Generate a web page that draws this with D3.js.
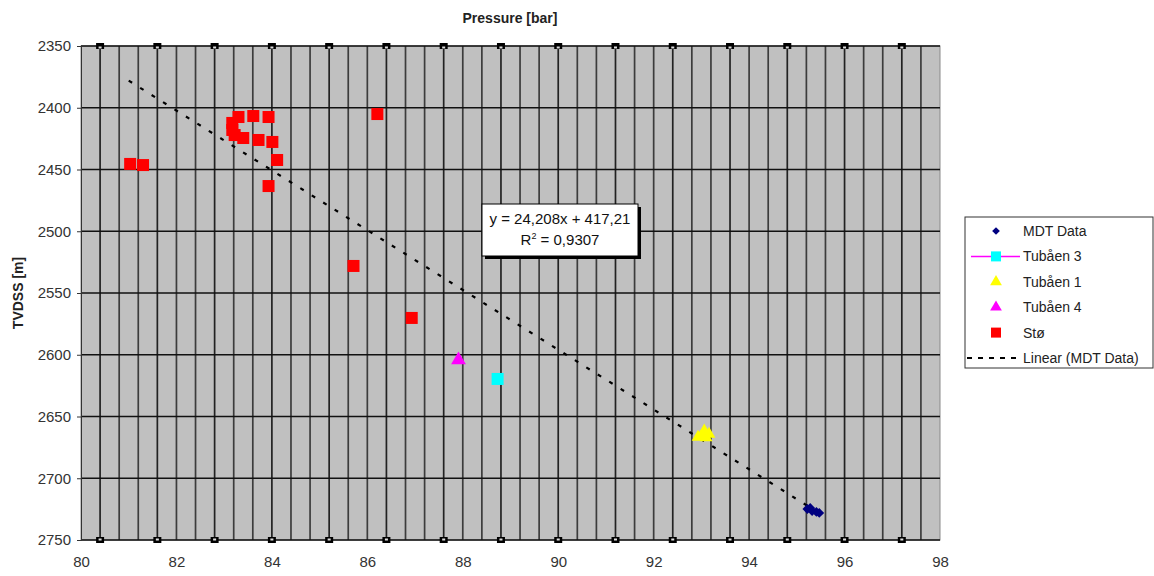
<!DOCTYPE html>
<html>
<head>
<meta charset="utf-8">
<script src="https://cdn.jsdelivr.net/npm/d3@7"></script>
<style>
  body { margin: 0; background: #fff; }
  text { font-family: "Liberation Sans", Arial, sans-serif; }
</style>
</head>
<body>
<div class="chart"></div>
<script>
// data
var stoP = [83.30, 83.61, 83.93, 83.17, 83.17, 83.22, 83.40, 83.72, 84.01, 84.11, 83.93, 81.03, 81.30, 86.21, 85.71, 86.93];
var stoD = [2407.5, 2406.7, 2407.5, 2412.3, 2418.0, 2422.1, 2424.5, 2426.1, 2427.7, 2442.3, 2463.4, 2445.5, 2446.4, 2405.1, 2528.1, 2570.2];

var tub1P = [92.93, 93.06, 93.16, 93.00, 93.10];
var tub1D = [2666.6, 2661.7, 2664.2, 2665.8, 2667.0];

var tub3P = [88.73];
var tub3D = [2619.6];

var tub4P = [87.91];
var tub4D = [2604.2];

var mdtP = [95.22, 95.28, 95.32, 95.41, 95.47];
var mdtD = [2724.9, 2724.1, 2726.5, 2727.3, 2728.1];

// trendline y = 24,208x + 417,21
var trendSlope = 24.208, trendIntercept = 417.21;
var trendRange = [81.0, 95.25];

var xTicks = [80, 82, 84, 86, 88, 90, 92, 94, 96, 98];
var yTicks = [2350, 2400, 2450, 2500, 2550, 2600, 2650, 2700, 2750];

var legendNames = ["MDT Data", "Tubåen 3", "Tubåen 1", "Tubåen 4", "Stø", "Linear (MDT Data)"];

var margin = { top: 46, left: 81 },
  chart_width = 859,
  chart_height = 494;

var svg = d3.select(".chart").append("svg")
  .attr("width", 1154)
  .attr("height", 576);

var g = svg.append("g")
  .attr("transform", "translate(" + margin.left + "," + margin.top + ")");

var xScale = d3.scaleLinear().domain([80, 98]).range([0, chart_width]);
var yScale = d3.scaleLinear().domain([2350, 2750]).range([0, chart_height]);

// plot background
g.append("rect")
  .attr("width", chart_width)
  .attr("height", chart_height)
  .attr("fill", "#c0c0c0")
  .attr("stroke", "#8a8a8a")
  .attr("stroke-width", 1);

// vertical lines every 0.4 bar
var vLines = d3.range(1, 45).map(function (k) { return 80 + k * 0.4; });
g.append("g").selectAll("line")
  .data(vLines)
  .enter().append("line")
  .attr("x1", function (d) { return xScale(d); })
  .attr("x2", function (d) { return xScale(d); })
  .attr("y1", 0)
  .attr("y2", chart_height)
  .attr("stroke", function (d, i) { return i % 3 == 0 ? "#222" : "#3c3c3c"; })
  .attr("stroke-width", 1.7);

// horizontal gridlines
g.append("g").selectAll("line")
  .data(yTicks)
  .enter().append("line")
  .attr("x1", 0)
  .attr("x2", chart_width)
  .attr("y1", function (d) { return yScale(d); })
  .attr("y2", function (d) { return yScale(d); })
  .attr("stroke", "#111")
  .attr("stroke-width", 1.5);

// little box markers on every third vertical line, top and bottom
var markLines = vLines.filter(function (d, i) { return i % 3 == 0; });
[0, chart_height].forEach(function (yy) {
  var mk = g.append("g");
  mk.selectAll("rect.o")
    .data(markLines)
    .enter().append("rect")
    .attr("x", function (d) { return xScale(d) - 4; })
    .attr("y", yy - 3)
    .attr("width", 8)
    .attr("height", 6)
    .attr("fill", "#000");
  mk.selectAll("rect.i")
    .data(markLines)
    .enter().append("rect")
    .attr("x", function (d) { return xScale(d) - 1.5; })
    .attr("y", yy + (yy == 0 ? 0.5 : -1.5))
    .attr("width", 3)
    .attr("height", 2)
    .attr("fill", "#ddd");
});

// axes
var yAxis = d3.axisLeft(yScale).tickValues(yTicks).tickFormat(d3.format("d")).tickSize(4).tickPadding(6);
var yg = g.append("g").call(yAxis);
yg.select(".domain").attr("stroke", "#333");
yg.selectAll(".tick line").attr("stroke", "#333");
yg.selectAll("text").attr("font-size", "15px").attr("fill", "#333").attr("font-family", "Liberation Sans, Arial");

var xAxis = d3.axisBottom(xScale).tickValues(xTicks).tickSize(0).tickPadding(16);
var xg = g.append("g").attr("transform", "translate(0," + chart_height + ")").call(xAxis);
xg.select(".domain").remove();
xg.selectAll("text").attr("font-size", "15px").attr("fill", "#333").attr("font-family", "Liberation Sans, Arial");

// trendline
var lineGen = d3.line()
  .x(function (d) { return xScale(d); })
  .y(function (d) { return yScale(trendSlope * d + trendIntercept); });
g.append("path")
  .attr("d", lineGen(trendRange))
  .attr("fill", "none")
  .attr("stroke", "#000")
  .attr("stroke-width", 2.2)
  .attr("stroke-dasharray", "4,9.5");

// Stø squares
g.append("g").selectAll("rect")
  .data(stoP)
  .enter().append("rect")
  .attr("x", function (d) { return xScale(d) - 6; })
  .attr("y", function (d, i) { return yScale(stoD[i]) - 6; })
  .attr("width", 12)
  .attr("height", 12)
  .attr("fill", "#ff0000");

// Tubåen 3 square
g.append("g").selectAll("rect")
  .data(tub3P)
  .enter().append("rect")
  .attr("x", function (d) { return xScale(d) - 6; })
  .attr("y", function (d, i) { return yScale(tub3D[i]) - 6; })
  .attr("width", 12)
  .attr("height", 12)
  .attr("fill", "#00ffff");

var tri = d3.symbol().type(d3.symbolTriangle).size(70);
var dia = d3.symbol().type(d3.symbolSquare).size(48);

// Tubåen 4
g.append("g").selectAll("path")
  .data(tub4P)
  .enter().append("path")
  .attr("d", d3.symbol().type(d3.symbolTriangle).size(95))
  .attr("transform", function (d, i) { return "translate(" + xScale(d) + "," + yScale(tub4D[i]) + ")"; })
  .attr("fill", "#ff00ff");

// Tubåen 1
g.append("g").selectAll("path")
  .data(tub1P)
  .enter().append("path")
  .attr("d", tri)
  .attr("transform", function (d, i) { return "translate(" + xScale(d) + "," + yScale(tub1D[i]) + ")"; })
  .attr("fill", "#ffff00");

// MDT data
g.append("g").selectAll("path")
  .data(mdtP)
  .enter().append("path")
  .attr("d", dia)
  .attr("transform", function (d, i) { return "translate(" + xScale(d) + "," + yScale(mdtD[i]) + ") rotate(45)"; })
  .attr("fill", "#000080");

// equation box
var eq = svg.append("g").attr("transform", "translate(482,204)");
eq.append("rect").attr("x", 3).attr("y", 3).attr("width", 156).attr("height", 52).attr("fill", "#000");
eq.append("rect").attr("width", 156).attr("height", 52).attr("fill", "#fff").attr("stroke", "#000").attr("stroke-width", 1);
eq.append("text").attr("x", 78).attr("y", 20).attr("text-anchor", "middle").attr("font-size", "15px").attr("fill", "#111")
  .text("y = 24,208x + 417,21");
var r2 = eq.append("text").attr("x", 78).attr("y", 41).attr("text-anchor", "middle").attr("font-size", "15px").attr("fill", "#111");
r2.append("tspan").text("R");
r2.append("tspan").attr("font-size", "9px").attr("dy", "-6").text("2");
r2.append("tspan").attr("dy", "6").text(" = 0,9307");

// titles
svg.append("text")
  .attr("x", 510).attr("y", 23)
  .attr("text-anchor", "middle")
  .attr("font-size", "14px").attr("font-weight", "bold").attr("fill", "#222")
  .text("Pressure [bar]");

svg.append("text")
  .attr("transform", "translate(23,293) rotate(-90)")
  .attr("text-anchor", "middle")
  .attr("font-size", "14px").attr("font-weight", "bold").attr("fill", "#222")
  .text("TVDSS [m]");

// legend
var leg = svg.append("g").attr("transform", "translate(965,217)");
leg.append("rect").attr("width", 188).attr("height", 151).attr("fill", "#fff").attr("stroke", "#333").attr("stroke-width", 1);
var rowY = function (i) { return 14 + i * 25.4; };
legendNames.forEach(function (name, i) {
  leg.append("text")
    .attr("x", 58).attr("y", rowY(i) + 5)
    .attr("font-size", "14px").attr("fill", "#222")
    .text(name);
});
var sx = 31;
leg.append("path").attr("d", d3.symbol().type(d3.symbolSquare).size(30))
  .attr("transform", "translate(" + sx + "," + rowY(0) + ") rotate(45)").attr("fill", "#000080");
leg.append("line").attr("x1", 6).attr("x2", 55).attr("y1", rowY(1)).attr("y2", rowY(1))
  .attr("stroke", "#ff00ff").attr("stroke-width", 1.5);
leg.append("rect").attr("x", sx - 5).attr("y", rowY(1) - 5).attr("width", 10).attr("height", 10).attr("fill", "#00ffff");
leg.append("path").attr("d", d3.symbol().type(d3.symbolTriangle).size(60))
  .attr("transform", "translate(" + sx + "," + rowY(2) + ")").attr("fill", "#ffff00");
leg.append("path").attr("d", d3.symbol().type(d3.symbolTriangle).size(60))
  .attr("transform", "translate(" + sx + "," + rowY(3) + ")").attr("fill", "#ff00ff");
leg.append("rect").attr("x", sx - 5).attr("y", rowY(4) - 5).attr("width", 10).attr("height", 10).attr("fill", "#ff0000");
leg.append("line").attr("x1", 2).attr("x2", 55).attr("y1", rowY(5)).attr("y2", rowY(5))
  .attr("stroke", "#000").attr("stroke-width", 2).attr("stroke-dasharray", "5,6");
</script>
</body>
</html>
